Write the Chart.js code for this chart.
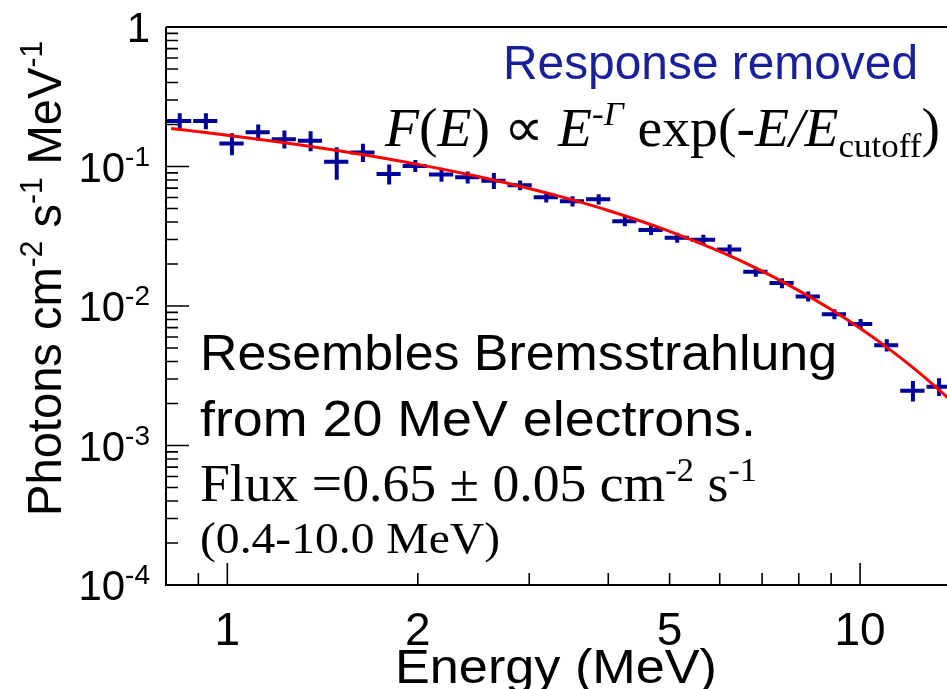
<!DOCTYPE html>
<html>
<head>
<meta charset="utf-8">
<script src="https://cdn.jsdelivr.net/npm/chart.js@4/dist/chart.umd.min.js"></script>
<style>
html,body{margin:0;padding:0;background:#fff;overflow:hidden}
#wrap{width:947px;height:689px;position:relative}
canvas{display:block}
</style>
</head>
<body>
<div id="wrap"><canvas id="c" width="947" height="689"></canvas></div>
<script>
// ---- data ----
const binEdges = [0.800,0.880,0.968,1.065,1.171,1.288,1.417,1.559,1.715,1.886,2.075,2.283,2.511,2.762,3.038,3.342,3.676,4.044,4.448,4.893,5.383,5.921,6.513,7.165,7.881,8.669,9.533,10.49,11.53,12.69,13.96];
const energy = [0.841,0.925,1.017,1.119,1.231,1.354,1.489,1.638,1.802,1.982,2.180,2.398,2.638,2.902,3.192,3.512,3.863,4.249,4.673,5.140,5.654,6.220,6.842,7.526,8.279,9.107,10.02,11.02,12.12,13.33];
const flux = [0.212,0.212,0.146,0.176,0.157,0.153,0.108,0.126,0.0884,0.101,0.0876,0.0837,0.0792,0.0733,0.0601,0.0563,0.0582,0.0405,0.0350,0.0309,0.0299,0.0254,0.0176,0.0146,0.0117,0.00873,0.00743,0.00523,0.00247,0.00264];
const fluxErr = [0.021,0.021,0.0217,0.0174,0.018,0.020,0.025,0.0146,0.0117,0.0067,0.0072,0.0055,0.0078,0.0036,0.0030,0.0028,0.0029,0.0020,0.0017,0.0015,0.0015,0.0013,0.00087,0.00072,0.00058,0.00043,0.00037,0.00035,0.00033,0.00030];
const fitEnergy = [0.815,0.9,1.0,1.2,1.5,2.0,2.5,3.0,3.5,4.0,5.0,6.0,7.0,8.0,9.0,10,11,12,13,14];
const fitFlux = [0.1875,0.1778,0.1677,0.1504,0.1296,0.1036,0.0844,0.0696,0.0579,0.0484,0.0343,0.0246,0.0178,0.0129,0.00944,0.00693,0.00509,0.00375,0.00277,0.00205];
const xTickLabels = [1,2,5,10];
const xMajorTicks = [1,10];
const xMinorTicks = [0.9,2,3,4,5,6,7,8,9];
const yDecades = [0,-1,-2,-3,-4];

const SANS = '"Liberation Sans", Arial, Helvetica, sans-serif';
const SERIF = '"Liberation Serif", "Times New Roman", serif';
const DATA_BLUE = '#00009c';

function drawRich(ctx, segs, x, y, targetW, color, align) {
  ctx.save();
  ctx.fillStyle = color;
  ctx.textBaseline = 'alphabetic';
  ctx.textAlign = 'left';
  let w = 0;
  segs.forEach(s => { ctx.font = s.f; w += ctx.measureText(s.t).width; });
  const sx = targetW ? targetW / w : 1;
  const total = w * sx;
  let x0 = x;
  if (align === 'right') x0 = x - total;
  else if (align === 'center') x0 = x - total / 2;
  ctx.translate(x0, y);
  ctx.scale(sx, 1);
  let cx = 0;
  segs.forEach(s => { ctx.font = s.f; ctx.fillText(s.t, cx, s.dy || 0); cx += ctx.measureText(s.t).width; });
  ctx.restore();
}

const errorBars = {
  id: 'errorBars',
  beforeDatasetsDraw(chart) {
    const ctx = chart.ctx, xs = chart.scales.x, ys = chart.scales.y, a = chart.chartArea;
    const ds = chart.data.datasets[1];
    ctx.save();
    ctx.beginPath(); ctx.rect(a.left, a.top, a.right - a.left, a.bottom - a.top); ctx.clip();
    ctx.strokeStyle = ds.borderColor; ctx.lineWidth = 4; ctx.lineCap = 'butt';
    ds.data.forEach(p => {
      const px = xs.getPixelForValue(p.x), py = ys.getPixelForValue(p.y);
      ctx.beginPath();
      ctx.moveTo(xs.getPixelForValue(p.xMin) + 1, py); ctx.lineTo(xs.getPixelForValue(p.xMax) - 1, py);
      ctx.moveTo(px, ys.getPixelForValue(p.yMax) - 2); ctx.lineTo(px, ys.getPixelForValue(p.yMin) + 2);
      ctx.stroke();
    });
    ctx.restore();
  }
};

const frame = {
  id: 'frame',
  afterDraw(chart) {
    const ctx = chart.ctx, xs = chart.scales.x, ys = chart.scales.y, a = chart.chartArea;
    ctx.save();
    ctx.strokeStyle = '#000'; ctx.lineWidth = 2;
    ctx.beginPath();
    ctx.moveTo(a.left, a.top); ctx.lineTo(a.right + 2, a.top);
    ctx.moveTo(a.left, a.top); ctx.lineTo(a.left, a.bottom);
    ctx.moveTo(a.left - 1, a.bottom); ctx.lineTo(a.right + 2, a.bottom);
    ctx.stroke();
    ctx.lineWidth = 1.6;
    ctx.beginPath();
    yDecades.forEach(k => {
      const y = ys.getPixelForValue(Math.pow(10, k));
      ctx.moveTo(a.left, y); ctx.lineTo(a.left + 23, y);
    });
    yDecades.slice(1).forEach(k => {
      for (let m = 2; m <= 9; m++) {
        const y = ys.getPixelForValue(m * Math.pow(10, k));
        ctx.moveTo(a.left, y); ctx.lineTo(a.left + 12, y);
      }
    });
    xMajorTicks.forEach(v => { const x = xs.getPixelForValue(v); ctx.moveTo(x, a.bottom); ctx.lineTo(x, a.bottom - 22); });
    xMinorTicks.forEach(v => { const x = xs.getPixelForValue(v); ctx.moveTo(x, a.bottom); ctx.lineTo(x, a.bottom - 12); });
    ctx.stroke();

    // y tick labels
    yDecades.forEach(k => {
      const y = ys.getPixelForValue(Math.pow(10, k));
      const segs = k === 0 ? [{t: '1', f: '42px ' + SANS}]
        : [{t: '10', f: '42px ' + SANS}, {t: '-' + (-k), f: '28px ' + SANS, dy: -16}];
      drawRich(ctx, segs, 150, y + 15, null, '#000', 'right');
    });
    // x tick labels
    xTickLabels.forEach(v => {
      const x = xs.getPixelForValue(v);
      drawRich(ctx, [{t: String(v), f: '46px ' + SANS}], x, 645, null, '#000', 'center');
    });
    // axis titles
    drawRich(ctx, [{t: 'Energy (MeV)', f: '49px ' + SANS}], 395, 683, 322, '#000');
    ctx.save();
    ctx.translate(61, 516); ctx.rotate(-Math.PI / 2);
    drawRich(ctx, [
      {t: 'Photons cm', f: '49px ' + SANS},
      {t: '-2', f: '31px ' + SANS, dy: -19},
      {t: ' s', f: '49px ' + SANS},
      {t: '-1', f: '31px ' + SANS, dy: -19},
      {t: ' MeV', f: '49px ' + SANS},
      {t: '-1', f: '31px ' + SANS, dy: -19}
    ], 0, 0, 475, '#000');
    ctx.restore();

    // annotations
    drawRich(ctx, [{t: 'Response removed', f: '48px ' + SANS}], 503, 79, 415, '#1a1f9e');
    const I = 'italic 54px ' + SERIF, R = '54px ' + SERIF, Ss = '34px ' + SERIF, Si = 'italic 34px ' + SERIF;
    drawRich(ctx, [
      {t: 'F', f: I}, {t: '(', f: R}, {t: 'E', f: I}, {t: ')', f: R}, {t: ' \u221D ', f: R},
      {t: 'E', f: I}, {t: '-', f: Ss, dy: -21}, {t: '\u0393', f: Si, dy: -21},
      {t: ' exp(-', f: R}, {t: 'E', f: I}, {t: '/', f: I}, {t: 'E', f: I},
      {t: 'cutoff', f: Ss, dy: 11}, {t: ')', f: R}
    ], 385, 146, 555, '#000');
    drawRich(ctx, [{t: 'Resembles Bremsstrahlung', f: '50px ' + SANS}], 200, 370, 637, '#000');
    drawRich(ctx, [{t: 'from 20 MeV electrons.', f: '50px ' + SANS}], 200, 436, 556, '#000');
    const F = '53px ' + SERIF, Fs = '34px ' + SERIF;
    drawRich(ctx, [
      {t: 'Flux =0.65 \u00B1 0.05 cm', f: F}, {t: '-2', f: Fs, dy: -20},
      {t: ' s', f: F}, {t: '-1', f: Fs, dy: -20}
    ], 200, 501, 557, '#000');
    drawRich(ctx, [{t: '(0.4-10.0 MeV)', f: '44px ' + SERIF}], 200, 553, 300, '#000');
    ctx.restore();
  }
};

new Chart(document.getElementById('c').getContext('2d'), {
  type: 'scatter',
  data: {
    datasets: [
      {
        label: 'Fit',
        type: 'line',
        data: fitEnergy.map((e, i) => ({x: e, y: fitFlux[i]})),
        borderColor: '#ff0000',
        borderWidth: 3,
        pointRadius: 0,
        cubicInterpolationMode: 'monotone',
        fill: false
      },
      {
        label: 'Data',
        data: energy.map((e, i) => ({x: e, y: flux[i], xMin: binEdges[i], xMax: binEdges[i + 1], yMin: flux[i] - fluxErr[i], yMax: flux[i] + fluxErr[i]})),
        borderColor: DATA_BLUE,
        backgroundColor: DATA_BLUE,
        pointRadius: 0
      }
    ]
  },
  options: {
    responsive: false,
    animation: false,
    layout: {padding: {left: 166, top: 27, right: 0, bottom: 104}},
    plugins: {legend: {display: false}, tooltip: {enabled: false}},
    scales: {
      x: {type: 'logarithmic', min: 0.8, max: 13.72, display: false},
      y: {type: 'logarithmic', min: 1e-4, max: 1, display: false}
    }
  },
  plugins: [errorBars, frame]
});
</script>
</body>
</html>
